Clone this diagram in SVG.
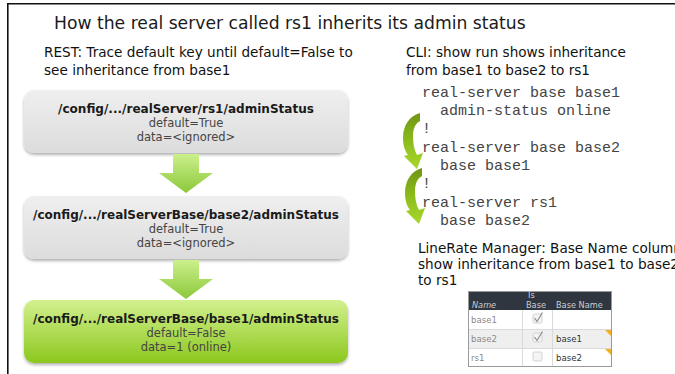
<svg xmlns="http://www.w3.org/2000/svg" width="675" height="374" viewBox="0 0 675 374">
  <defs>
    <style>
      .txt { font-family: "DejaVu Sans", "Liberation Sans", sans-serif; fill: #111; }
      .title { font-size: 17.2px; fill: #1a1a1a; }
      .note { font-size: 13.6px; }
      .path { font-family: "DejaVu Sans", "Liberation Sans", sans-serif; font-size: 12.4px; font-weight: bold; fill: #1a1a1a; text-anchor: middle; }
      .sub { font-family: "DejaVu Sans", "Liberation Sans", sans-serif; font-size: 11.5px; fill: #444; text-anchor: middle; }
      .code { font-family: "Liberation Mono", "DejaVu Sans Mono", monospace; font-size: 15px; fill: #444; }
      .th { font-family: "DejaVu Sans", "Liberation Sans", sans-serif; font-size: 8.2px; fill: #c9ced4; }
      .td { font-family: "DejaVu Sans", "Liberation Sans", sans-serif; font-size: 8.6px; fill: #8a8a8a; }
      .tv { font-family: "DejaVu Sans", "Liberation Sans", sans-serif; font-size: 8.6px; fill: #333; }
      .grid { stroke: #dadada; stroke-width: 1; fill: none; }
      .chk { fill: #f4f4f4; stroke: #c8c8c8; stroke-width: 0.8; }
      .tick { fill: none; stroke: #8c8c8c; stroke-width: 1.2; }
    </style>
    <linearGradient id="grayFill" x1="0" y1="0" x2="0" y2="1">
      <stop offset="0" stop-color="#efefef"/>
      <stop offset="1" stop-color="#dcdcdc"/>
    </linearGradient>
    <linearGradient id="greenFill" x1="0" y1="0" x2="0" y2="1">
      <stop offset="0" stop-color="#d2f08e"/>
      <stop offset="1" stop-color="#8cc81e"/>
    </linearGradient>
    <linearGradient id="arrowFill" x1="0" y1="0" x2="0" y2="1">
      <stop offset="0" stop-color="#cbf08c"/>
      <stop offset="1" stop-color="#8cc83a"/>
    </linearGradient>
    <linearGradient id="curlFill" x1="0" y1="0" x2="0" y2="1">
      <stop offset="0" stop-color="#6f9414"/>
      <stop offset="0.5" stop-color="#8cbc1c"/>
      <stop offset="1" stop-color="#a9d82c"/>
    </linearGradient>
    <filter id="shadow" x="-5%" y="-10%" width="110%" height="130%">
      <feDropShadow dx="0" dy="2" stdDeviation="1.4" flood-color="#000" flood-opacity="0.3"/>
    </filter>
    <!-- curved inheritance arrow used beside the CLI listing -->
    <path id="curl" d="M420,113 C409,116 403,126 403,138 C403,146 405,151 408,155 L404,156 L417,169 L423,153 L417,155 C414,150 413,143 413,136 C413,128 416,123 420,121 Z"/>
  </defs>

  <rect x="0" y="0" width="675" height="374" fill="#fff"/>
  <!-- slide frame -->
  <path d="M675,3.8 H7.8 V374" fill="none" stroke="#111" stroke-width="1.6"/>

  <text class="txt title" x="54" y="29">How the real server called rs1 inherits its admin status</text>

  <text class="txt note" x="44" y="57">REST: Trace default key until default=False to</text>
  <text class="txt note" x="44" y="75">see inheritance from base1</text>

  <text class="txt note" x="406" y="57">CLI: show run shows inheritance</text>
  <text class="txt note" x="406" y="75">from base1 to base2 to rs1</text>

  <!-- REST object chain -->
  <g id="node-rs1">
    <rect x="24" y="90" width="324" height="63" rx="10" fill="url(#grayFill)" filter="url(#shadow)"/>
    <text class="path" x="186" y="113" textLength="256" lengthAdjust="spacingAndGlyphs">/config/.../realServer/rs1/adminStatus</text>
    <text class="sub" x="186" y="127">default=True</text>
    <text class="sub" x="186" y="141">data=&lt;ignored&gt;</text>
  </g>
  <g id="node-base2">
    <rect x="24" y="196" width="324" height="63" rx="10" fill="url(#grayFill)" filter="url(#shadow)"/>
    <text class="path" x="186" y="219" textLength="306" lengthAdjust="spacingAndGlyphs">/config/.../realServerBase/base2/adminStatus</text>
    <text class="sub" x="186" y="233">default=True</text>
    <text class="sub" x="186" y="247">data=&lt;ignored&gt;</text>
  </g>
  <g id="node-base1">
    <rect x="24" y="300" width="324" height="63" rx="10" fill="url(#greenFill)" filter="url(#shadow)"/>
    <text class="path" x="186" y="323" textLength="306" lengthAdjust="spacingAndGlyphs">/config/.../realServerBase/base1/adminStatus</text>
    <text class="sub" x="186" y="337">default=False</text>
    <text class="sub" x="186" y="351">data=1 (online)</text>
  </g>

  <g id="connectors">
    <path d="M173,154 H199 V173 H213 L186,193 L159,173 H173 Z" fill="url(#arrowFill)"/>
    <path d="M173,260 H199 V279 H213 L186,299 L159,279 H173 Z" fill="url(#arrowFill)"/>
    <use href="#curl" fill="url(#curlFill)"/>
    <use href="#curl" fill="url(#curlFill)" transform="translate(2,55)"/>
  </g>

  <!-- CLI listing -->
  <g id="cli">
    <text class="code" x="422" y="97">real-server base base1</text>
    <text class="code" x="440" y="115">admin-status online</text>
    <text class="code" x="422" y="133">!</text>
    <text class="code" x="422" y="152">real-server base base2</text>
    <text class="code" x="440" y="170">base base1</text>
    <text class="code" x="422" y="188">!</text>
    <text class="code" x="422" y="207">real-server rs1</text>
    <text class="code" x="440" y="225">base base2</text>
  </g>

  <text class="txt note" x="418" y="253">LineRate Manager: Base Name column</text>
  <text class="txt note" x="418" y="269">show inheritance from base1 to base2</text>
  <text class="txt note" x="418" y="285">to rs1</text>

  <!-- LineRate Manager grid -->
  <g id="table">
    <rect x="468" y="291" width="144" height="76" fill="#fff"/>
    <rect x="468" y="291" width="144" height="19" fill="#2f3640"/>
    <rect x="468" y="329" width="144" height="19" fill="#efefef"/>
    <path class="grid" d="M468,329.5 H612 M468,348.5 H612 M522.5,310 V367 M552.5,310 V367"/>
    <rect x="468.5" y="291.5" width="143" height="75" fill="none" stroke="#9a9a9a"/>
    <text class="th" x="472" y="307.5" font-style="italic">Name</text>
    <text class="th" x="528" y="298">Is</text>
    <text class="th" x="526" y="307.5">Base</text>
    <text class="th" x="556" y="307.5">Base Name</text>
    <text class="td" x="471" y="323">base1</text>
    <text class="td" x="471" y="342">base2</text>
    <text class="td" x="471" y="361">rs1</text>
    <rect class="chk" x="533" y="314" width="9" height="9" rx="1.5"/>
    <rect class="chk" x="533" y="333" width="9" height="9" rx="1.5"/>
    <rect class="chk" x="533" y="352" width="9" height="9" rx="1.5"/>
    <path class="tick" d="M534.5,318 L537,321.5 L542.5,312.5"/>
    <path class="tick" d="M534.5,337 L537,340.5 L542.5,331.5"/>
    <text class="tv" x="556" y="342">base1</text>
    <text class="tv" x="556" y="361">base2</text>
    <path d="M605,330 H611 V336 Z" fill="#f2b020"/>
    <path d="M605,349 H611 V355 Z" fill="#f2b020"/>
  </g>
</svg>
